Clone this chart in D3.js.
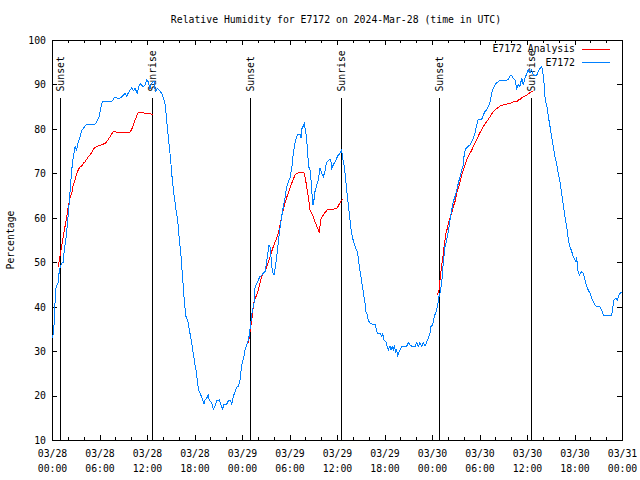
<!DOCTYPE html>
<html><head><meta charset="utf-8">
<script src="https://cdn.jsdelivr.net/npm/d3@7"></script>
<style>
body{margin:0;background:#fff}
svg text{font-family:"DejaVu Sans Mono","Liberation Mono",monospace;font-size:9.8px;fill:#000}
</style>
</head><body>
<svg id="chart" width="640" height="480"></svg>
<script>
// ---------- DATA ----------
const chartTitle = "Relative Humidity for E7172 on 2024-Mar-28 (time in UTC)";
const yLabel = "Percentage";
const seriesNames = ["E7172 Analysis", "E7172"];
const startTime = "2024-03-28T00:00:00Z";
const spanHours = 72;
const yTickValues = [10,20,30,40,50,60,70,80,90,100];
const xMajorHours = [0,6,12,18,24,30,36,42,48,54,60,66,72];
const xMinorStep = 2;
const sunHours = [1.10, 12.67, 25.10, 36.54, 48.92, 60.54];
const sunLabels = ["Sunset","Sunrise","Sunset","Sunrise","Sunset","Sunrise"];

// observed E7172 (hours since start, percent)
const obsHours = [0.09,0.25,0.38,0.51,0.80,0.92,1.23,1.43,1.55,1.77,1.93,2.06,2.27,2.49,2.69,2.91,3.12,3.32,3.54,3.75,3.95,4.38,5.43,5.65,5.94,6.15,6.35,6.91,7.67,7.83,8.59,8.93,9.22,9.44,9.64,10.07,10.27,10.48,10.77,11.03,11.20,11.53,11.75,11.96,12.16,12.38,12.59,12.88,13.05,13.30,13.55,13.86,14.06,14.27,14.40,14.56,14.69,14.82,14.99,15.12,15.25,15.41,15.54,15.66,15.83,15.95,16.08,16.26,16.38,16.51,16.67,16.80,16.93,17.09,17.22,17.34,17.52,17.65,17.77,17.94,18.06,18.19,18.35,18.48,18.61,18.78,18.91,19.04,19.20,19.33,19.54,19.74,19.87,20.17,20.37,20.59,20.80,21.13,21.31,21.56,21.73,22.07,22.27,22.57,22.70,22.90,23.12,23.33,23.53,23.75,23.87,24.04,24.25,24.38,24.59,24.80,24.92,25.05,25.23,25.30,25.52,25.64,25.86,26.06,26.27,26.49,26.69,26.91,27.03,27.20,27.41,27.54,27.66,27.83,28.04,28.21,28.38,28.59,28.80,29.01,29.22,29.43,29.65,29.85,30.06,30.28,30.48,30.69,30.91,31.11,31.33,31.45,31.58,31.74,31.87,32.05,32.17,32.30,32.42,32.59,32.72,32.84,32.97,33.09,33.22,33.44,33.64,33.85,34.07,34.27,34.48,34.61,34.77,35.03,35.20,35.33,35.53,35.75,35.96,36.16,36.38,36.59,36.72,36.88,37.05,37.22,37.43,37.55,37.73,37.93,38.15,38.36,38.56,38.69,38.82,38.99,39.12,39.25,39.41,39.54,39.66,39.83,39.95,40.17,40.38,40.80,40.93,41.09,41.43,41.65,41.77,41.94,42.19,42.35,42.48,42.69,42.82,42.98,43.11,43.24,43.41,43.54,43.67,43.87,44.17,44.59,44.80,45.01,45.22,45.44,45.85,46.07,46.27,46.48,46.70,46.90,47.12,47.33,47.53,47.75,47.87,48.09,48.25,48.42,48.59,48.76,48.88,49.01,49.22,49.43,49.64,49.86,50.06,50.27,50.49,50.69,50.90,51.12,51.32,51.54,51.75,51.95,52.08,52.30,52.59,52.80,53.02,53.22,53.43,53.65,53.85,54.28,54.48,54.69,54.91,55.11,55.33,55.54,55.74,55.96,56.17,56.37,56.59,57.43,57.64,57.85,58.07,58.27,58.48,58.70,58.90,59.11,59.33,59.53,59.75,59.96,60.16,60.38,60.59,60.80,61.23,61.43,61.64,61.86,61.99,62.15,62.32,62.49,62.70,62.91,63.12,63.33,63.54,63.76,63.96,64.17,64.38,64.59,64.80,65.01,65.22,65.43,65.65,65.85,66.19,66.28,66.40,66.60,66.91,67.11,67.33,67.54,67.74,67.96,68.17,68.37,68.59,68.80,69.22,69.43,69.64,70.70,70.82,70.99,71.24,71.41,71.54,71.75,72.00];
const obsValues = [33,35.7,40.8,44.2,45.6,48.2,49.8,50,52.7,55.5,58.4,61,65.6,70.75,73.75,76,75.25,77.1,78.25,79.6,80.1,81.1,81.1,81.6,82.75,84.6,86.1,86.1,86.3,87,86.9,87.4,88,87.4,88.1,89.3,88.6,89.1,88.1,89.9,90.1,89.5,89.9,91,90.6,89.1,90.3,90.8,88.4,89.1,88.75,88,86.9,85.75,83.5,80.5,78.25,76,73,70,67.75,65.1,63.6,61.75,59.9,58,55,52.4,49,46.4,42.25,39.6,37.75,37,36.25,34.75,33.25,31.75,30.25,28.4,26.9,25.75,23.5,21.6,20.9,20.1,19.75,19,18.1,19,19.4,20.1,19,18.4,16.9,17.65,18.8,19,18.1,16.9,18.1,18.1,18.8,18.8,18.1,19.75,20.9,21.9,22,23.5,25.4,27.6,28.75,30.25,31.4,32.5,33.6,35.5,38.1,38.9,40.75,44.1,45.25,46,46.75,47.1,47.5,47.9,49,51.25,53.9,53.5,51.25,47.9,47.1,49,51.25,54.6,57.6,60.25,62.5,64.4,67,68.1,68.9,71.1,74.5,76.75,78.25,78.85,78.85,77.9,80.1,80.65,81.1,79.4,77.5,74.5,71.5,70.75,68.5,65.5,62.9,64,65.9,67.4,68.5,71.1,70,69.25,70.4,71.9,72.6,73,73.2,71.1,71.9,72.6,73.4,74.1,74.5,75.25,73.4,71.9,69.6,66.25,63,61,58,55.75,54.25,53.1,52.4,50.9,49,47.1,45.6,44.1,42.25,40.75,38.9,38.1,37,36.25,36.1,36.1,35.1,34,34,33.25,34,32.5,32.1,31,30.25,31.1,30.25,31,30.25,31.1,29.9,30.25,29.1,29.9,31,31.1,31.1,31.9,31.4,31.1,31,31.9,31.1,31.9,31.1,31.9,31.1,32.1,32.9,34,35.5,35.9,37.4,38.5,39.25,40.75,42.25,43,45.25,50,53.5,55,56.9,59.5,61.75,63.6,64.75,66.25,67.75,69.25,70.75,71.9,74.5,75.6,76.15,76.4,77.1,77.9,79,80.9,82.15,82.15,83.1,83.9,84.25,85,86.1,88,89.1,89.9,90.4,90.6,91,91,91.15,91.9,92.1,91.4,91,89.1,89.9,89.5,91.4,89.9,91.4,92.4,93.25,92.5,93.25,92.1,92.1,92.9,93.6,94,92.9,90.25,86.1,85.4,82.75,80.5,78.25,76,73.75,71.9,70,68.1,65.5,62.9,60.25,58,55,53.5,52.4,51.25,50.1,51.25,48.25,47.1,47.9,47.5,46,44.5,43.75,43,41.9,41.1,40.4,40,40,39.25,38.1,38.1,39.6,41.5,41.9,41.5,42.25,43,43.3];

// analysis (null = gap between nights)
const anaHours = [0.80,1.10,1.35,1.64,1.86,2.06,2.27,2.49,2.69,2.91,3.12,3.32,3.54,3.75,3.95,4.17,4.38,4.59,4.80,5.01,5.22,5.43,5.85,6.28,6.69,6.91,7.11,7.33,7.54,7.74,7.96,8.37,9.01,9.85,10.07,10.27,10.48,10.70,10.90,11.33,11.96,12.80,
 18.0,
 24.80,25.10,25.23,25.43,25.56,25.86,26.06,26.27,26.49,26.69,26.91,27.12,27.32,27.54,27.75,27.95,28.17,28.38,28.59,28.80,29.01,29.22,29.43,29.65,29.85,30.06,30.28,30.48,30.69,30.91,31.33,31.83,32.00,32.17,32.38,32.59,32.80,33.01,33.22,33.44,33.64,33.77,33.94,34.19,34.48,34.77,35.33,35.96,36.16,36.38,36.59,36.80,
 42.0,
 48.67,48.88,49.01,49.13,49.26,49.43,49.60,49.77,49.93,50.06,50.27,50.49,50.69,50.90,51.12,51.32,51.54,51.75,51.95,52.17,52.38,52.59,52.80,53.02,53.22,53.43,53.65,53.85,54.06,54.28,54.48,54.69,54.91,55.11,55.33,55.54,55.74,55.96,56.17,56.37,56.59,57.01,57.43,57.85,58.27,58.70,58.90,59.11,59.53,59.96,60.38,60.59,60.80];
const anaValues = [49,52.4,55,58,60.25,62.5,64.4,65.5,67.4,68.5,70,70.75,71.5,71.65,72.25,72.6,73.15,73.75,74.1,74.65,75.4,75.85,76.15,76.4,76.75,77.1,77.65,78.25,78.85,79.4,79.4,79.15,79.15,79.3,79.9,80.9,82,82.9,83.65,83.65,83.5,83.25,
 null,
 31.75,35.5,37,40,41.5,42.6,43.75,45.25,46.75,47.5,47.9,49,50.1,51.25,52.4,53.5,54.6,55.4,56.5,58.4,60.25,61.75,63.25,64.6,65.5,66.6,67.75,68.65,69.6,70,70.15,70.15,68.9,67,64.75,61.75,61,60.25,59.1,58.15,57.25,56.65,59.65,60.4,61.15,61.75,61.9,62.05,62.65,63.4,64,64.15,
 null,
 42.6,43.75,46,47.9,49.75,52,54.6,56.5,57.6,58.75,59.9,61,62.5,63.6,65.5,66.6,68.1,69.6,70.75,71.9,73,73.75,74.5,75.25,76,76.75,77.65,78.4,79.15,79.75,80.5,81.1,81.6,82.15,82.75,83.35,83.9,84.25,84.6,84.8,85.15,85.4,85.6,85.75,86.1,86.1,86.5,86.65,87.25,87.6,88.15,88.4,88.55];

// ---------- CHART ----------
const t0 = new Date(startTime).getTime();
const H = h => new Date(t0 + h * 3600e3);
const plotL = 52, plotR = 622, plotT = 40, plotB = 440;
const svg = d3.select("#chart");
const x = d3.scaleUtc().domain([H(0), H(spanHours)]).range([plotL, plotR]);
const y = d3.scaleLinear().domain([10, 100]).range([plotB, plotT]);

const majorDates = xMajorHours.map(H);
const minorDates = d3.range(0, spanHours + 0.01, xMinorStep).filter(h => h % 6 !== 0).map(H);

function styleAxis(g) {
  g.select(".domain").remove();
  g.selectAll("line").attr("stroke", "#000").attr("shape-rendering", "crispEdges");
  g.attr("font-family", null).attr("font-size", null);
}

const MAJ = 5, MIN = 3;
const fmtDate = d3.utcFormat("%m/%d"), fmtTime = d3.utcFormat("%H:%M");
const gxb = svg.append("g").attr("transform", `translate(0,${plotB})`)
  .call(d3.axisBottom(x).tickValues(majorDates).tickSizeInner(-MAJ).tickSizeOuter(0).tickFormat(""))
  .call(styleAxis);
gxb.selectAll(".tick text").remove();
gxb.selectAll(".tick").each(function(d) {
  const t = d3.select(this).append("text").attr("text-anchor", "middle");
  t.append("tspan").attr("x", 0).attr("y", 17).text(fmtDate(d));
  t.append("tspan").attr("x", 0).attr("y", 32).text(fmtTime(d));
});
svg.append("g").attr("transform", `translate(0,${plotB})`)
  .call(d3.axisBottom(x).tickValues(minorDates).tickSizeInner(-MIN).tickSizeOuter(0).tickFormat(""))
  .call(styleAxis);
svg.append("g").attr("transform", `translate(0,${plotT})`)
  .call(d3.axisTop(x).tickValues(majorDates).tickSizeInner(-MAJ).tickSizeOuter(0).tickFormat(""))
  .call(styleAxis);
svg.append("g").attr("transform", `translate(0,${plotT})`)
  .call(d3.axisTop(x).tickValues(minorDates).tickSizeInner(-MIN).tickSizeOuter(0).tickFormat(""))
  .call(styleAxis);
const gyl = svg.append("g").attr("transform", `translate(${plotL},0)`)
  .call(d3.axisLeft(y).tickValues(yTickValues).tickSizeInner(-MAJ).tickSizeOuter(0).tickFormat(d3.format("d")))
  .call(styleAxis);
gyl.selectAll("text").attr("x", -6).attr("dy", "0.35em");
svg.append("g").attr("transform", `translate(${plotR},0)`)
  .call(d3.axisRight(y).tickValues(yTickValues).tickSizeInner(-MAJ).tickSizeOuter(0).tickFormat(""))
  .call(styleAxis);

svg.append("rect").attr("x", plotL).attr("y", plotT).attr("width", plotR - plotL).attr("height", plotB - plotT)
  .attr("fill", "none").attr("stroke", "#000").attr("shape-rendering", "crispEdges");

svg.append("text").attr("x", 336).attr("y", 23).attr("text-anchor", "middle").text(chartTitle);
svg.append("text").attr("transform", "translate(14,240) rotate(-90)").attr("text-anchor", "middle").text(yLabel);

sunHours.forEach((h, i) => {
  const px = x(H(h));
  svg.append("line").attr("x1", px).attr("x2", px).attr("y1", y(10)).attr("y2", y(87))
    .attr("stroke", "#000").attr("shape-rendering", "crispEdges");
  svg.append("text").attr("transform", `translate(${px},${y(88.4)}) rotate(-90)`)
    .attr("dy", "0.35em").attr("text-anchor", "start").text(sunLabels[i]);
});

const anaData = anaHours.map((h, i) => ({t: H(h), v: anaValues[i]}));
const obsData = obsHours.map((h, i) => ({t: H(h), v: obsValues[i]}));
const line = d3.line().defined(d => d.v != null).x(d => x(d.t)).y(d => y(d.v));
svg.append("path").datum(anaData).attr("d", line).attr("fill", "none")
  .attr("stroke", "#ff0000").attr("stroke-width", 1).attr("shape-rendering", "crispEdges");
svg.append("path").datum(obsData).attr("d", line).attr("fill", "none")
  .attr("stroke", "#0080ff").attr("stroke-width", 1).attr("shape-rendering", "crispEdges");

const legendColors = ["#ff0000", "#0080ff"];
seriesNames.forEach((name, i) => {
  const ly = 49 + i * 13.5;
  svg.append("text").attr("x", 575).attr("y", ly).attr("dy", "0.35em").attr("text-anchor", "end").text(name);
  svg.append("line").attr("x1", 582).attr("x2", 610).attr("y1", ly).attr("y2", ly)
    .attr("stroke", legendColors[i]).attr("shape-rendering", "crispEdges");
});
</script>
</body></html>
